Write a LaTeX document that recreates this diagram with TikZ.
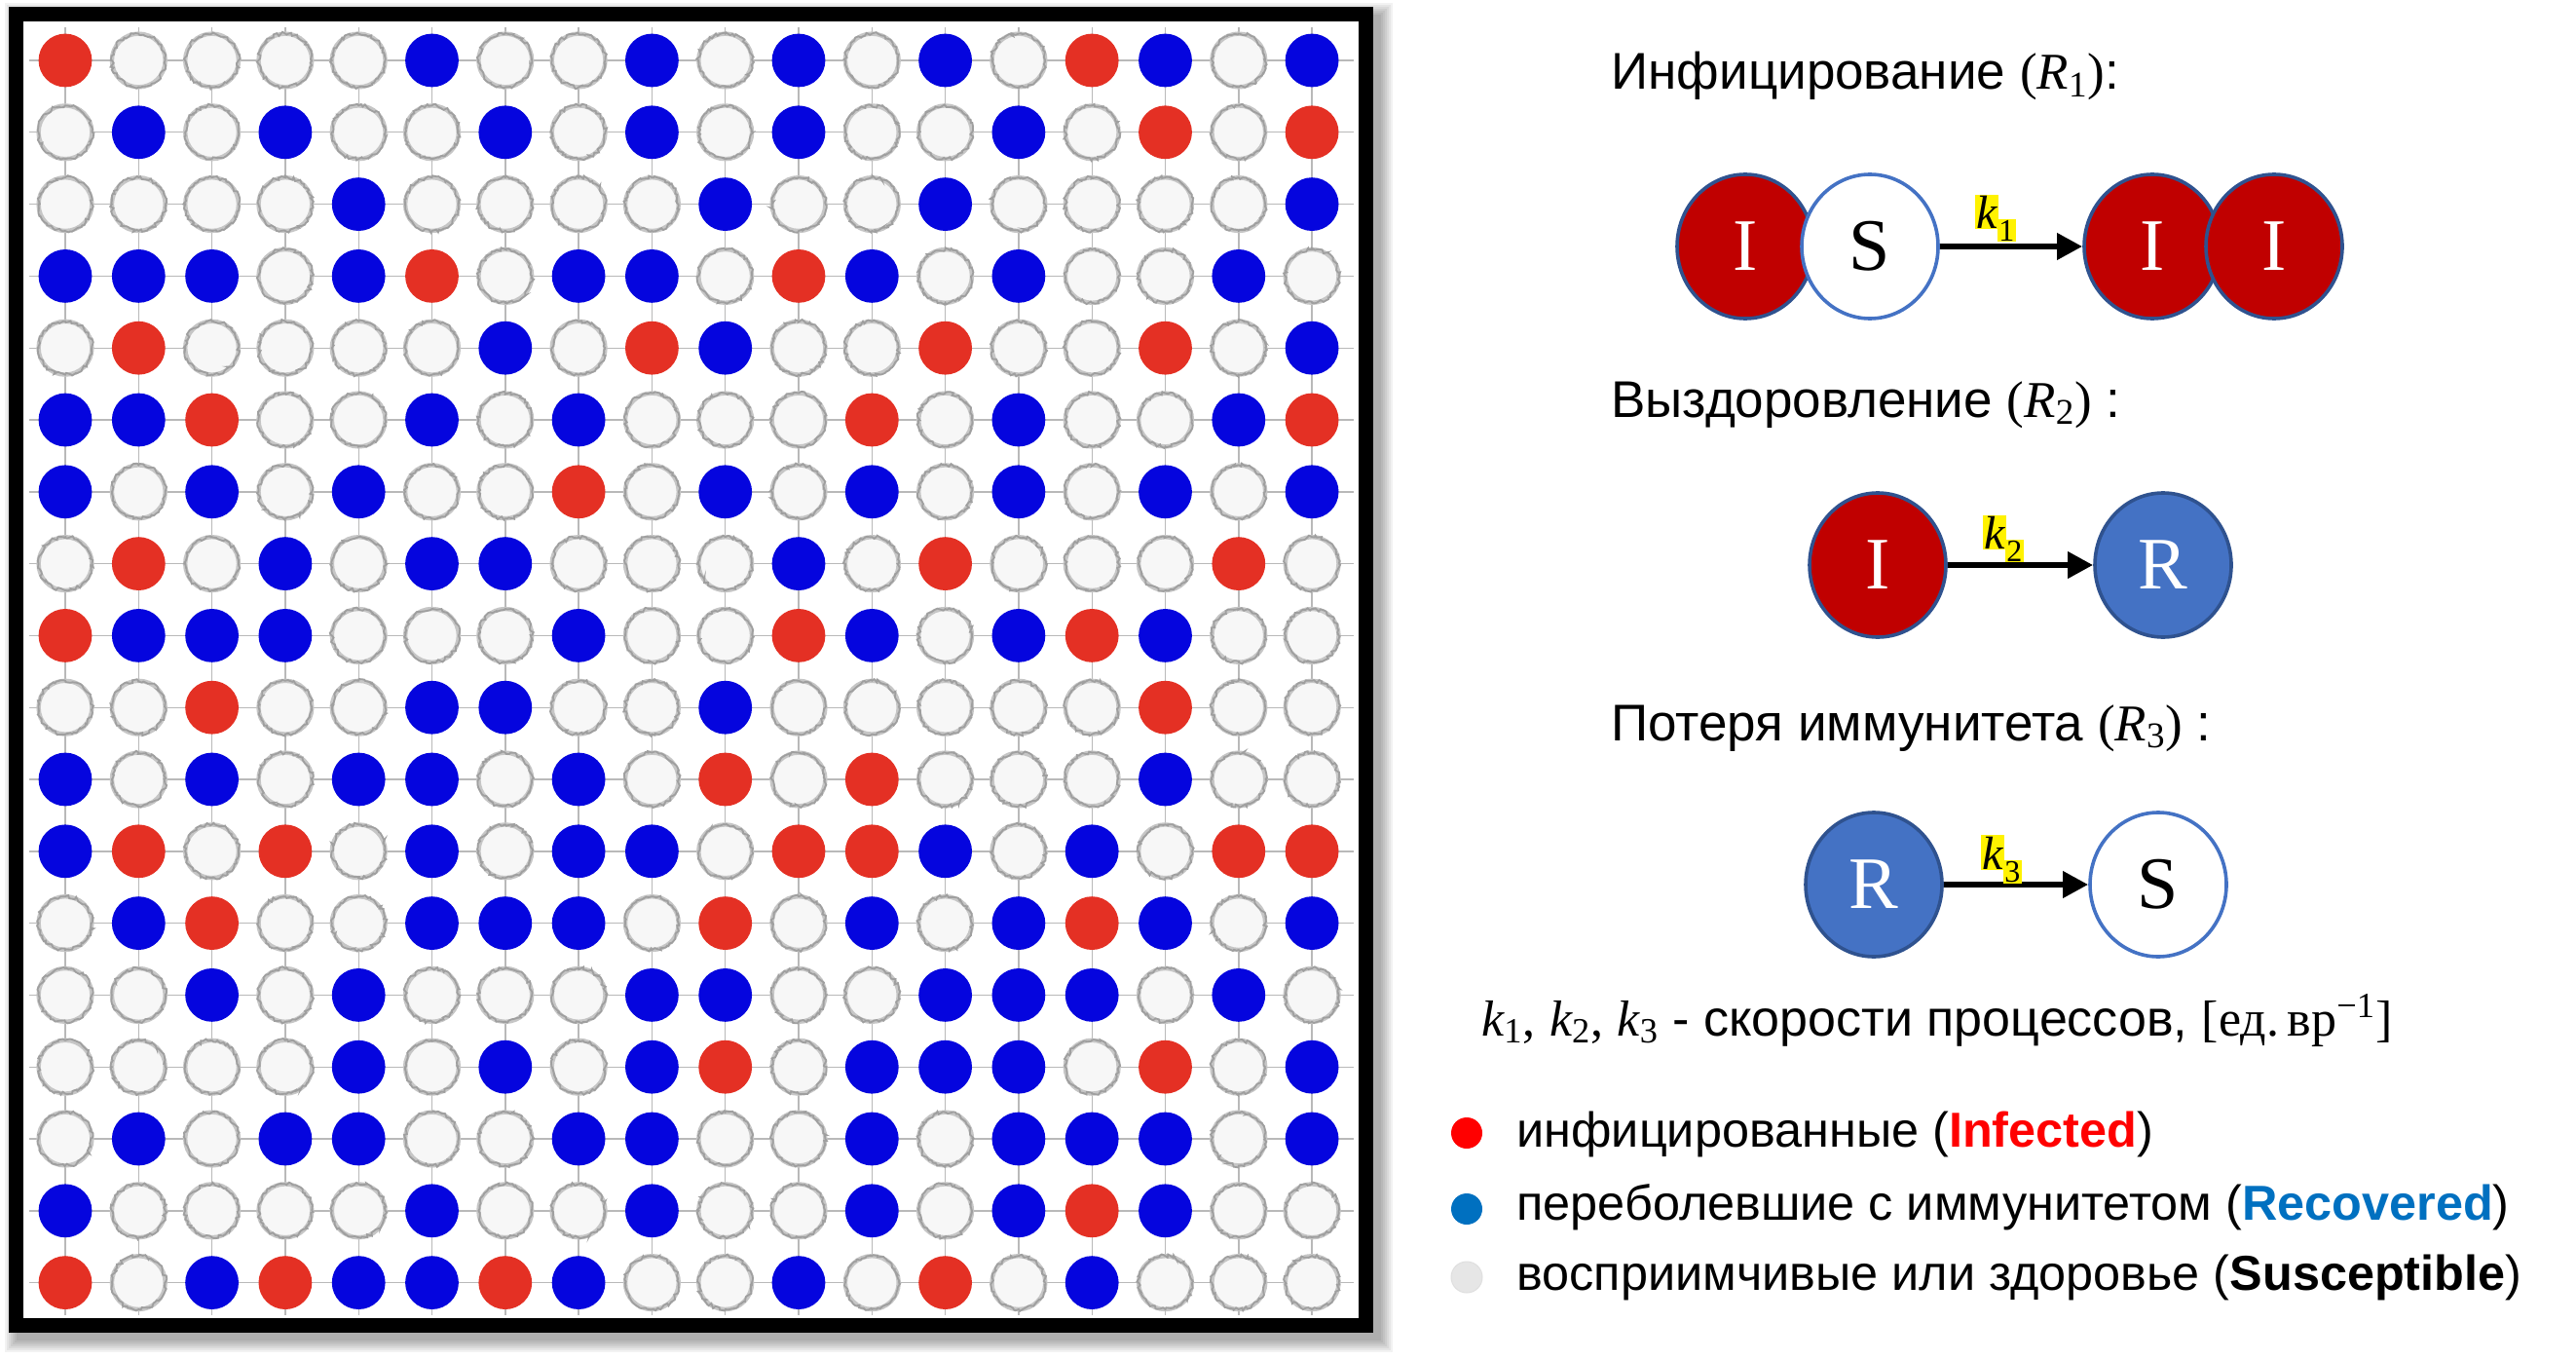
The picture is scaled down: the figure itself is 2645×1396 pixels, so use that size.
\RequirePackage{fix-cm}
\documentclass[tikz,border=0pt]{standalone}
\usepackage{fontspec}
\setmainfont{Liberation Sans}
\newfontfamily\serif{Liberation Serif}
\usetikzlibrary{shapes.geometric,arrows.meta,decorations.pathmorphing}
\definecolor{gridred}{RGB}{228,48,36}
\definecolor{gridblue}{RGB}{5,5,222}
\definecolor{redfill}{RGB}{192,0,0}
\definecolor{edgeblue}{RGB}{47,82,143}
\definecolor{midblue}{RGB}{68,114,196}
\definecolor{lgred}{RGB}{255,0,0}
\definecolor{lgblue}{RGB}{0,112,192}
\definecolor{lggray}{RGB}{230,230,230}
\newcommand{\mvar}[2]{{\serif\itshape #1}\textsubscript{\serif #2}}
\newcommand{\klabel}[1]{{\setlength{\fboxsep}{0.6pt}\colorbox{yellow}{\serif\itshape k}\kern-0.5pt\raisebox{-6.5pt}{\colorbox{yellow}{\serif\fontsize{16}{18}\selectfont #1}}}}
\def\gridrows{%
{R,W,W,W,W,B,W,W,B,W,B,W,B,W,R,B,W,B},%
{W,B,W,B,W,W,B,W,B,W,B,W,W,B,W,R,W,R},%
{W,W,W,W,B,W,W,W,W,B,W,W,B,W,W,W,W,B},%
{B,B,B,W,B,R,W,B,B,W,R,B,W,B,W,W,B,W},%
{W,R,W,W,W,W,B,W,R,B,W,W,R,W,W,R,W,B},%
{B,B,R,W,W,B,W,B,W,W,W,R,W,B,W,W,B,R},%
{B,W,B,W,B,W,W,R,W,B,W,B,W,B,W,B,W,B},%
{W,R,W,B,W,B,B,W,W,W,B,W,R,W,W,W,R,W},%
{R,B,B,B,W,W,W,B,W,W,R,B,W,B,R,B,W,W},%
{W,W,R,W,W,B,B,W,W,B,W,W,W,W,W,R,W,W},%
{B,W,B,W,B,B,W,B,W,R,W,R,W,W,W,B,W,W},%
{B,R,W,R,W,B,W,B,B,W,R,R,B,W,B,W,R,R},%
{W,B,R,W,W,B,B,B,W,R,W,B,W,B,R,B,W,B},%
{W,W,B,W,B,W,W,W,B,B,W,W,B,B,B,W,B,W},%
{W,W,W,W,B,W,B,W,B,R,W,B,B,B,W,R,W,B},%
{W,B,W,B,B,W,W,B,B,W,W,B,W,B,B,B,W,B},%
{B,W,W,W,W,B,W,W,B,W,W,B,W,B,R,B,W,W},%
{R,W,B,R,B,B,R,B,W,W,B,W,R,W,B,W,W,W}}
\begin{document}
\begin{tikzpicture}[x=0.5pt,y=-0.5pt,
  cellR/.style={fill=gridred},
  cellB/.style={fill=gridblue},
  cellW/.style={fill=gray!6, draw=gray!45, line width=2.2pt,
    postaction={draw=gray!75, line width=0.9pt, decorate,
      decoration={random steps,segment length=1.3pt,amplitude=0.9pt}}},
  gridline/.style={draw=gray!55, line width=0.7pt},
  infc/.style={ellipse, fill=redfill, draw=edgeblue, line width=1.8pt,
    minimum width=70pt, minimum height=74pt, inner sep=0pt, text=white,
    font=\serif\fontsize{38}{40}\selectfont},
  susc/.style={infc, fill=white, draw=midblue, text=black},
  recc/.style={infc, fill=midblue, draw=edgeblue},
  reactarrow/.style={-{Triangle[length=13pt,width=13pt]}, line width=3.4pt},
  klab/.style={inner sep=0pt, font=\fontsize{24}{26}\selectfont},
  ttl/.style={anchor=base west, inner sep=0pt, font=\fontsize{26.5}{30}\selectfont},
  ktxt/.style={anchor=base west, inner sep=0pt, font=\fontsize{26}{30}\selectfont},
  legtxt/.style={anchor=base west, inner sep=0pt, font=\fontsize{25.2}{30}\selectfont},
  dotst/.style={circle, minimum size=16pt, inner sep=0pt}
]
\pgfmathsetseed{7}
\fill[white] (0,0) rectangle (2645,1396);
\useasboundingbox (0,0) rectangle (2645,1396);
% shadow of the frame
\foreach \e in {0,2,...,12}
  \fill[black,opacity=0.05] ({16.5-\e},{15.5-\e}) rectangle ({1417.5+\e},{1375.5+\e});
% frame
\draw[line width=7.5pt, fill=white] (16,15) rectangle (1402,1360);
% grid connectors
\foreach \r in {0,...,17}
  \draw[gridline] (30,{62+73.8*\r}) -- (1390,{62+73.8*\r});
\foreach \c in {0,...,17}
  \draw[gridline] ({67+75.3*\c},28) -- ({67+75.3*\c},1350);
% cells
\foreach \rowlist [count=\r] in \gridrows {
  \foreach \s [count=\c] in \rowlist {
    \path[cell\s] ({67+75.3*(\c-1)},{62+73.8*(\r-1)}) circle (13.7pt);
  }
}
% titles
\node[ttl] (t1) at (1654,92) {Инфицирование {\serif(}\mvar{R}{1}{\serif)}:};
\node[ttl] (t2) at (1654,428) {Выздоровление {\serif(}\mvar{R}{2}{\serif)} :};
\node[ttl] (t3) at (1654,760) {Потеря иммунитета {\serif(}\mvar{R}{3}{\serif)} :};
% reaction 1
\node[infc] (Ia) at (1792,253) {I};
\node[susc] (Sa) at (1920,253) {S};
\node[infc] (Ib) at (2210,253) {I};
\node[infc] (Ic) at (2335,253) {I};
\draw[reactarrow] (Sa) -- (Ib);
\node[klab] (k1) at (2049,224) {\klabel{1}};
% reaction 2
\node[infc] (I2) at (1928,580) {I};
\node[recc] (R2) at (2221,580) {R};
\draw[reactarrow] (I2) -- (R2);
\node[klab] (k2) at (2057,553) {\klabel{2}};
% reaction 3
\node[recc] (R3) at (1924,908) {R};
\node[susc] (S3) at (2216,908) {S};
\draw[reactarrow] (R3) -- (S3);
\node[klab] (k3) at (2055,882) {\klabel{3}};
% rates
\node[ktxt] (kt) at (1521,1063) {\mvar{k}{1}{\serif ,} \mvar{k}{2}{\serif ,} \mvar{k}{3} - скорости процессов, {\serif [ед.\,вр\textsuperscript{−1}]}};
% legend
\node[dotst, fill=lgred] (d1) at (1506,1163) {};
\node[dotst, fill=lgblue] (d2) at (1506,1241) {};
\node[dotst, fill=lggray, draw=gray!25, line width=0.5pt] (d3) at (1506,1311) {};
\node[legtxt] (l1) at (1557,1177) {инфицированные ({\bfseries\color{lgred}Infected})};
\node[legtxt] (l2) at (1557,1252) {переболевшие с иммунитетом ({\bfseries\color{lgblue}Recovered})};
\node[legtxt] (l3) at (1557,1324) {восприимчивые или здоровье ({\bfseries Susceptible})};
\end{tikzpicture}
\end{document}
